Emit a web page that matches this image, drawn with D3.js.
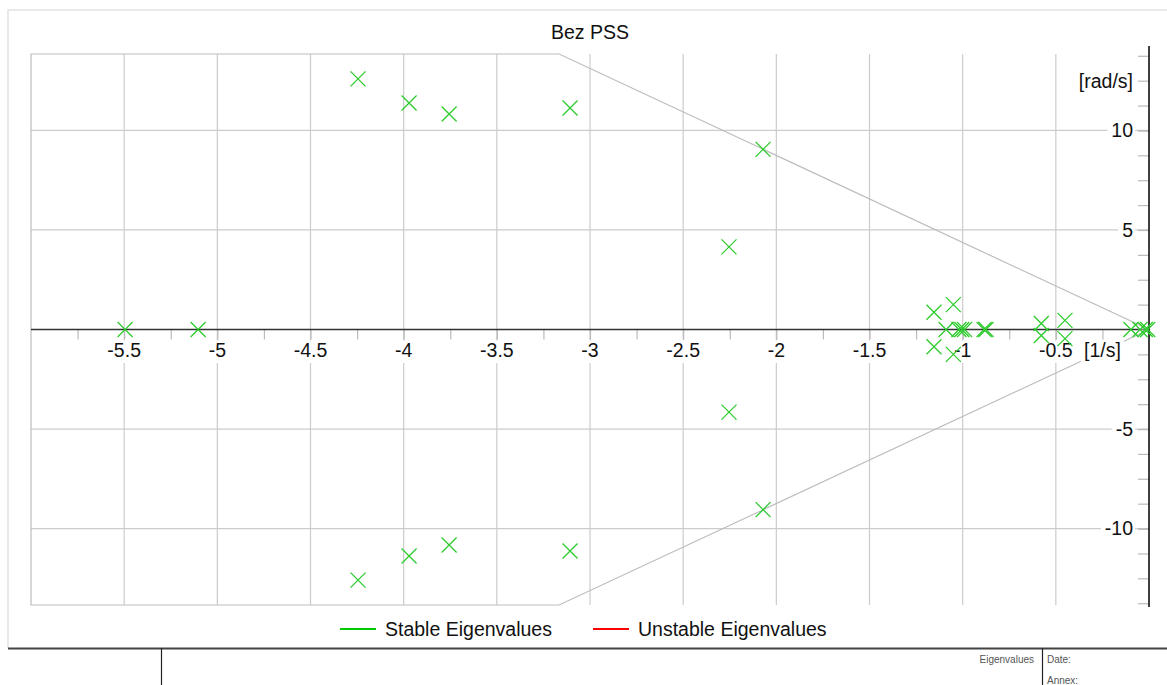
<!DOCTYPE html>
<html>
<head>
<meta charset="utf-8">
<script src="https://cdn.jsdelivr.net/npm/d3@7"></script>
<style>
  html, body { margin: 0; padding: 0; background: #fff; }
  svg { display: block; font-family: "Liberation Sans", Arial, sans-serif; }
</style>
</head>
<body>
<svg id="chart" width="1167" height="685"></svg>
<script>
// ---- Data ----
const title = "Bez PSS";
const realParts = [-4.245, -4.245, -3.971, -3.971, -3.756, -3.756, -3.107, -3.107,
  -2.071, -2.071, -2.254, -2.254, -5.495, -5.103,
  -1.154, -1.154, -1.050, -1.050, -1.089, -1.02, -1.005, -0.99, -0.885, -0.875,
  -0.578, -0.578, -0.451, -0.451, -0.097, -0.048, -0.02, -0.007];
const imagParts = [12.59, -12.59, 11.38, -11.38, 10.83, -10.83, 11.13, -11.13,
  9.05, -9.05, 4.15, -4.15, 0, 0,
  0.87, -0.87, 1.25, -1.25, 0, 0, 0, 0, 0, 0,
  0.30, -0.30, 0.46, -0.46, 0, 0, 0, 0];
const xDomain = [-6, 0];
const yDomain = [-13.84, 13.84];
const xLabelTicks = [-5.5, -5, -4.5, -4, -3.5, -3, -2.5, -2, -1.5, -1, -0.5];
const xMinorTicks = d3.range(-5.75, 0.001, 0.25);
const yLabelTicks = [-10, -5, 5, 10];
const yMinorTicks = d3.range(-12.5, 13.76, 1.25).concat([-13.75]);
const dampingCorner = [-3.166, 13.84];
const xUnit = "[1/s]", xUnitAt = -0.25;
const yUnit = "[rad/s]", yUnitAt = 12.5;
const legendItems = ["Stable Eigenvalues", "Unstable Eigenvalues"];
const legendColors = ["#00c800", "#ff0000"];

// ---- Layout ----
const svg = d3.select("#chart");
const L = 31, R = 1149, T = 54, B = 605;
const FS = 19.5;
const x = d3.scaleLinear().domain(xDomain).range([L, R]);
const y = d3.scaleLinear().domain(yDomain).range([B, T]);
const grid = "#cccccc";

// outer frame (left & top)
svg.append("path").attr("d", `M8,648 V10 H1167`).attr("fill", "none")
  .attr("stroke", "#e2e2e2").attr("stroke-width", 1.5);

// title
svg.append("text").attr("x", 590).attr("y", 39).attr("text-anchor", "middle")
  .attr("font-size", FS).attr("fill", "#111").text(title);

// grid
const g = svg.append("g");
g.selectAll(".vg").data(xLabelTicks).join("line")
  .attr("x1", d => x(d)).attr("x2", d => x(d)).attr("y1", T).attr("y2", B)
  .attr("stroke", grid).attr("stroke-width", 1.2);
g.selectAll(".hg").data(yLabelTicks).join("line")
  .attr("x1", L).attr("x2", R).attr("y1", d => y(d)).attr("y2", d => y(d))
  .attr("stroke", grid).attr("stroke-width", 1.2);

// damping boundary polygon
const poly = [[xDomain[0], yDomain[1]], dampingCorner, [0, 0],
  [dampingCorner[0], -dampingCorner[1]], [xDomain[0], yDomain[0]]];
g.append("path")
  .attr("d", d3.line().x(d => x(d[0])).y(d => y(d[1]))(poly) + "Z")
  .attr("fill", "none").attr("stroke", "#bdbdbd").attr("stroke-width", 1.2);

// x axis (at y=0)
const xAxis = svg.append("g").attr("transform", `translate(0,${y(0)})`);
xAxis.call(d3.axisBottom(x).tickValues(xMinorTicks).tickSize(10).tickFormat(""));
xAxis.select(".domain").remove();
xAxis.selectAll(".tick line").attr("stroke", "#bbbbbb").attr("stroke-width", 1.2);
xAxis.append("line").attr("x1", L).attr("x2", R).attr("stroke", "#333").attr("stroke-width", 1.5);
const xLab = svg.append("g").attr("transform", `translate(0,${y(0)})`);
const xl = xLab.selectAll("g").data(xLabelTicks.map(v => ({v, t: String(v)})).concat([{v: xUnitAt, t: xUnit}]))
  .join("g").attr("transform", d => `translate(${x(d.v)},0)`);
xl.append("rect");
xl.append("text").attr("y", 27.5).attr("text-anchor", "middle").attr("font-size", FS)
  .attr("fill", "#111").text(d => d.t);
xl.each(function() {
  const tb = d3.select(this).select("text").node().getBBox();
  d3.select(this).select("rect").attr("x", tb.x - 3).attr("y", 11).attr("width", tb.width + 6)
    .attr("height", tb.y + tb.height - 11 + 2).attr("fill", "#fff");
});

// y axis (right side)
const yAxis = svg.append("g").attr("transform", `translate(${R},0)`);
yAxis.call(d3.axisLeft(y).tickValues(yMinorTicks.concat(yLabelTicks)).tickSize(11).tickFormat(""));
yAxis.select(".domain").remove();
yAxis.selectAll(".tick line").attr("stroke", "#bbbbbb").attr("stroke-width", 1.2);
yAxis.append("line").attr("y1", T - 8).attr("y2", B + 2).attr("stroke", "#000").attr("stroke-width", 1.5);
const yl = yAxis.selectAll(".ylab").data(yLabelTicks.map(v => ({v, t: String(v)})).concat([{v: yUnitAt, t: yUnit}]))
  .join("g").attr("transform", d => `translate(0,${y(d.v)})`);
yl.append("rect");
yl.append("text").attr("x", -16).attr("dy", "0.35em").attr("text-anchor", "end")
  .attr("font-size", FS).attr("fill", "#111").text(d => d.t);
yl.each(function() {
  const tb = d3.select(this).select("text").node().getBBox();
  d3.select(this).select("rect").attr("x", tb.x - 4).attr("y", tb.y + 2).attr("width", tb.width + 6)
    .attr("height", tb.height - 4).attr("fill", "#fff");
});

// eigenvalue markers
const pts = realParts.map((r, i) => [r, imagParts[i]]);
const s = 7.5;
svg.append("g").selectAll("path").data(pts).join("path")
  .attr("d", d => {
    const cx = x(d[0]), cy = y(d[1]);
    return `M${cx - s},${cy - s}L${cx + s},${cy + s}M${cx - s},${cy + s}L${cx + s},${cy - s}`;
  })
  .attr("fill", "none").attr("stroke", "#2ecc2e").attr("stroke-width", 1.3);

// legend
const leg = svg.append("g");
const legX = [340, 593];
legendItems.forEach((t, i) => {
  leg.append("line").attr("x1", legX[i]).attr("x2", legX[i] + 36).attr("y1", 629).attr("y2", 629)
    .attr("stroke", legendColors[i]).attr("stroke-width", 2);
  leg.append("text").attr("x", legX[i] + 45).attr("y", 636).attr("font-size", FS)
    .attr("fill", "#111").text(t);
});

// footer
const f = svg.append("g");
f.append("line").attr("x1", 8).attr("x2", 1167).attr("y1", 648.5).attr("y2", 648.5)
  .attr("stroke", "#444").attr("stroke-width", 2);
f.append("line").attr("x1", 161.5).attr("x2", 161.5).attr("y1", 648).attr("y2", 685)
  .attr("stroke", "#222").attr("stroke-width", 1.2);
f.append("line").attr("x1", 1042.5).attr("x2", 1042.5).attr("y1", 648).attr("y2", 685)
  .attr("stroke", "#222").attr("stroke-width", 1.2);
f.append("text").attr("x", 1034).attr("y", 663).attr("text-anchor", "end")
  .attr("font-size", 10).attr("fill", "#555").text("Eigenvalues");
f.append("text").attr("x", 1047).attr("y", 663).attr("font-size", 10).attr("fill", "#555").text("Date:");
f.append("text").attr("x", 1047).attr("y", 684).attr("font-size", 10).attr("fill", "#555").text("Annex:");
</script>
</body>
</html>
